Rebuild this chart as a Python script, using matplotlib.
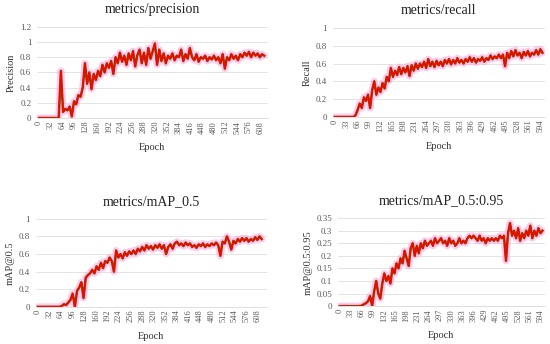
import numpy as np
import matplotlib

matplotlib.use("Agg")
import matplotlib.pyplot as plt

STEP = 6

precision = [
    0, 0, 0, 0, 0, 0, 0, 0, 0, 0,
    0.62, 0.08, 0.12, 0.10, 0.15, 0.02, 0.22, 0.18, 0.30, 0.28,
    0.40, 0.72, 0.45, 0.60, 0.38, 0.58, 0.50, 0.62, 0.55, 0.70,
    0.60, 0.72, 0.66, 0.75, 0.58, 0.80, 0.72, 0.86, 0.74, 0.82,
    0.70, 0.85, 0.76, 0.88, 0.68, 0.83, 0.90, 0.72, 0.86, 0.70,
    0.92, 0.78, 0.88, 0.98, 0.70, 0.90, 0.75, 0.85, 0.72, 0.82,
    0.78, 0.85, 0.76, 0.82, 0.80, 0.90, 0.75, 0.84, 0.78, 0.92,
    0.80, 0.76, 0.84, 0.74, 0.80, 0.78, 0.82, 0.75, 0.80, 0.77,
    0.82, 0.76, 0.80, 0.72, 0.84, 0.65, 0.80, 0.76, 0.84, 0.78,
    0.82, 0.76, 0.84, 0.80, 0.86, 0.82, 0.87, 0.80, 0.86, 0.82,
    0.85, 0.80, 0.84, 0.82,
]

recall = [
    0, 0, 0, 0, 0, 0, 0, 0, 0, 0,
    0.02, 0.08, 0.15, 0.10, 0.22, 0.18, 0.25, 0.10, 0.30, 0.40,
    0.25, 0.33, 0.28, 0.38, 0.32, 0.45, 0.40, 0.55, 0.45, 0.52,
    0.47, 0.56, 0.48, 0.55, 0.50, 0.57, 0.46, 0.58, 0.52, 0.60,
    0.54, 0.60, 0.56, 0.62, 0.55, 0.65, 0.57, 0.62, 0.56, 0.63,
    0.58, 0.62, 0.57, 0.64, 0.60, 0.65, 0.59, 0.64, 0.60, 0.66,
    0.61, 0.64, 0.60, 0.65, 0.62, 0.67, 0.62, 0.66, 0.61, 0.65,
    0.63, 0.67, 0.62, 0.66, 0.64, 0.69, 0.65, 0.68, 0.66, 0.70,
    0.66, 0.70, 0.57, 0.72, 0.66, 0.74, 0.68, 0.75, 0.69, 0.72,
    0.66, 0.73, 0.69, 0.74, 0.68, 0.72, 0.70, 0.75, 0.70, 0.76,
    0.72,
]

map50 = [
    0, 0, 0, 0, 0, 0, 0, 0, 0, 0,
    0.00, 0.01, 0.03, 0.02, 0.05, 0.08, 0.15, 0.00, 0.18, 0.22,
    0.28, 0.10, 0.33, 0.36, 0.38, 0.42, 0.38, 0.46, 0.42, 0.50,
    0.44, 0.52, 0.50, 0.56, 0.52, 0.40, 0.64, 0.56, 0.60, 0.55,
    0.62, 0.58, 0.63, 0.60, 0.64, 0.60, 0.66, 0.63, 0.68, 0.64,
    0.70, 0.66, 0.69, 0.65, 0.70, 0.67, 0.71, 0.66, 0.70, 0.60,
    0.68, 0.71, 0.66, 0.72, 0.74, 0.70, 0.72, 0.69, 0.73, 0.70,
    0.72, 0.68, 0.70, 0.67, 0.71, 0.69, 0.72, 0.68, 0.71, 0.69,
    0.72, 0.70, 0.73, 0.70, 0.58, 0.74, 0.72, 0.80, 0.74, 0.65,
    0.75, 0.72, 0.77, 0.74, 0.78, 0.75, 0.78, 0.74, 0.77, 0.75,
    0.79, 0.76, 0.80, 0.77,
]

map50_95 = [
    0, 0, 0, 0, 0, 0, 0, 0, 0, 0,
    0.000, 0.003, 0.008, 0.012, 0.02, 0.04, 0.00, 0.06, 0.10, 0.05,
    0.03, 0.09, 0.13, 0.10, 0.12, 0.09, 0.15, 0.13, 0.17, 0.15,
    0.19, 0.17, 0.22, 0.19, 0.16, 0.23, 0.25, 0.20, 0.24, 0.21,
    0.25, 0.23, 0.26, 0.24, 0.25, 0.26, 0.24, 0.27, 0.25, 0.26,
    0.27, 0.25, 0.26, 0.24, 0.27, 0.25, 0.26, 0.24, 0.25, 0.27,
    0.25, 0.26, 0.25, 0.27, 0.28, 0.27, 0.28, 0.27, 0.26, 0.28,
    0.26, 0.27, 0.25, 0.27, 0.26, 0.27, 0.26, 0.27, 0.26, 0.28,
    0.27, 0.28, 0.18, 0.29, 0.33, 0.28, 0.30, 0.27, 0.31, 0.26,
    0.29, 0.27, 0.30, 0.28, 0.32, 0.27, 0.30, 0.28, 0.31, 0.29,
    0.30,
]

panels = [
    # title, ylabel, values, tick step, x max, y max, y step
    ("metrics/precision", "Precision", precision, 32, 628, 1.2, 0.2),
    ("metrics/recall", "Recall", recall, 33, 606, 1.0, 0.2),
    ("metrics/mAP_0.5", "mAP@0.5", map50, 32, 632, 1.0, 0.2),
    ("metrics/mAP_0.5:0.95", "mAP@0.5:0.95", map50_95, 33, 606, 0.35, 0.05),
]

# axes rectangles in figure fractions
rects = [
    [0.067, 0.657, 0.420, 0.265],
    [0.605, 0.660, 0.385, 0.259],
    [0.065, 0.108, 0.420, 0.256],
    [0.614, 0.110, 0.376, 0.256],
]

TEXT = "#595959"
GRID = "#d9d9d9"
GLOW = "#ff9ce0"
BROWN = "#7a5200"
RED = "#ff0000"

plt.rcParams["font.family"] = ["Liberation Serif", "DejaVu Serif"]

fig = plt.figure(figsize=(5.5, 3.44), dpi=100)
fig.patch.set_facecolor("white")

for (title, ylabel, vals, tstep, xmax, ymax, ystep), rect in zip(panels, rects):
    ax = fig.add_axes(rect)
    epochs = np.arange(len(vals)) * STEP
    ax.plot(epochs, vals, color=GLOW, lw=5, alpha=0.55, solid_capstyle="round")
    ax.plot(epochs, vals, color=BROWN, lw=1.8)
    ax.plot(epochs, vals, color=RED, lw=1.0)

    yt = np.arange(0, ymax + ystep / 2, ystep).round(2)
    ax.set_xlim(-6, xmax)
    ax.set_ylim(0, ymax)
    ax.set_xticks(np.arange(0, xmax - 10, tstep))
    ax.set_yticks(yt)
    ax.set_yticklabels([f"{v:g}" for v in yt])
    ax.tick_params(axis="x", labelrotation=90, labelsize=6, colors=TEXT, length=0, pad=2)
    ax.tick_params(axis="y", labelsize=6.5, colors=TEXT, length=0, pad=4)
    ax.grid(True, axis="y", color=GRID, lw=0.5)
    ax.set_axisbelow(True)
    for s in ("top", "right", "left"):
        ax.spines[s].set_visible(False)
    ax.spines["bottom"].set_color(GRID)
    ax.spines["bottom"].set_linewidth(0.6)

    ax.set_title(title, fontsize=10, color="#222222", pad=10)
    ax.set_xlabel("Epoch", fontsize=7.5, color="#333333", labelpad=7)
    ax.set_ylabel(ylabel, fontsize=7.5, color="#333333", labelpad=3)

fig.savefig("out.png", dpi=100, facecolor="white")
